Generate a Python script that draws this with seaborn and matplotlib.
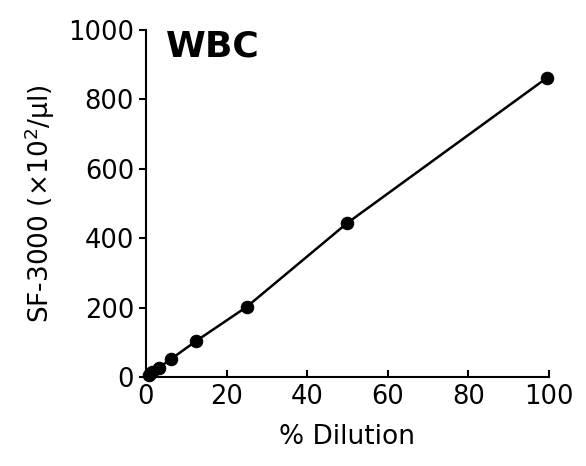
import numpy as np
import pandas as pd
import matplotlib.pyplot as plt
import seaborn as sns

dilution = [0.78, 1.5625, 3.125, 6.25, 12.5, 25, 50, 99.5]
wbc = [6, 14, 26, 52, 104, 202, 444, 862]

sns.set_style('ticks')
plt.rcParams['font.family'] = ['DejaVu Sans']
plt.rcParams['text.color'] = 'black'
plt.rcParams['axes.labelcolor'] = 'black'

df = pd.DataFrame({'x': dilution, 'y': wbc})
fig = plt.figure(figsize=(5.86, 4.66), dpi=100)
ax = fig.add_axes([0.249, 0.191, 0.688, 0.745])
sns.lineplot(data=df, x='x', y='y', ax=ax, color='black', linewidth=1.8,
             marker='o', markersize=9, markeredgecolor='black', clip_on=False)
ax.set_xlim(0, 100)
ax.set_ylim(0, 1000)
ax.set_xticks(range(0, 101, 20))
ax.set_yticks(range(0, 1001, 200))
ax.tick_params(labelsize=18.5, width=1.5, length=5, colors='black')
ax.tick_params(axis='x', direction='in', pad=5)
ax.set_xlabel('% Dilution', fontsize=19, labelpad=10)
ax.set_ylabel('SF-3000 (×10$^2$/μl)', fontsize=19, labelpad=8)
for s in ['top', 'right']:
    ax.spines[s].set_visible(False)
for s in ['left', 'bottom']:
    ax.spines[s].set_linewidth(1.5)
    ax.spines[s].set_color('black')
ax.text(0.05, 1.0, 'WBC', transform=ax.transAxes, fontsize=26,
        fontweight='bold', va='top', ha='left')
fig.savefig('out.png', dpi=100)
